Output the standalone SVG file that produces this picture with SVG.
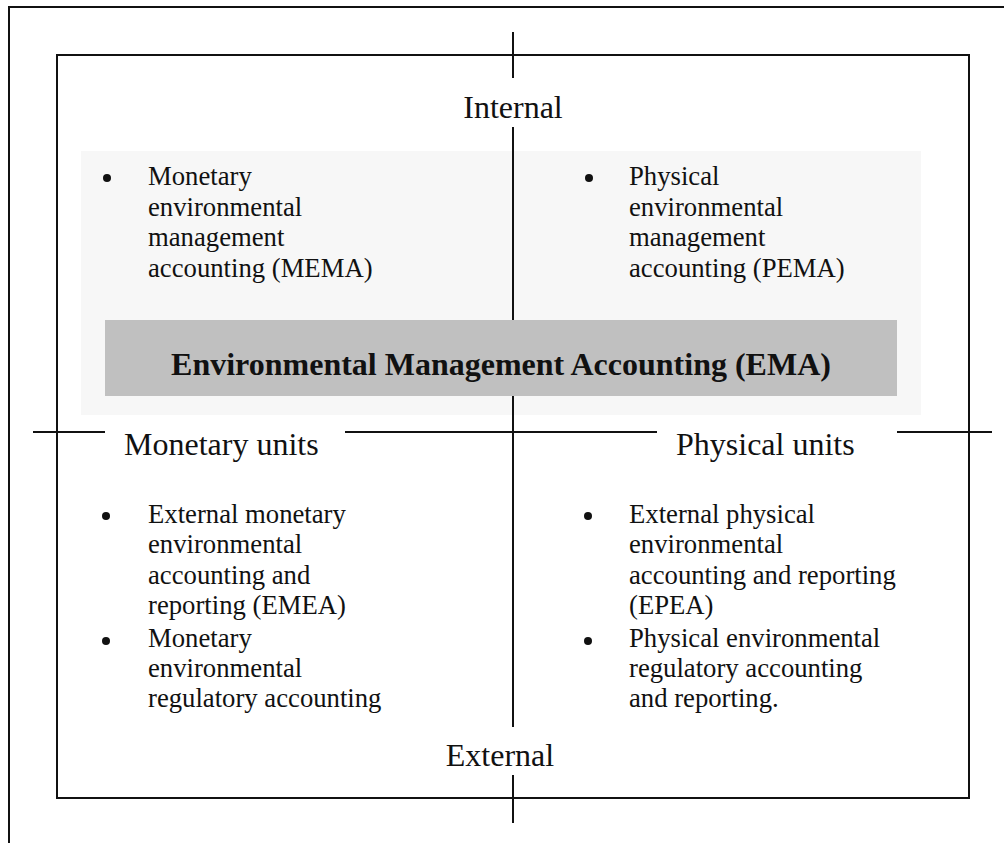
<svg xmlns="http://www.w3.org/2000/svg" width="1004" height="843" viewBox="0 0 1004 843">
<style>
.ln{stroke:#111;stroke-width:2;fill:none}
.lbl{font-family:"Liberation Serif","Times New Roman",serif;font-size:32px;fill:#111}
.bt{font-family:"Liberation Serif","Times New Roman",serif;font-size:26.7px;fill:#111}
.ttl{font-family:"Liberation Serif","Times New Roman",serif;font-size:32px;font-weight:bold;fill:#111}
.dot{fill:#111}
</style>
<rect width="1004" height="843" fill="#fff"/>
<g id="frame">
<path class="ln" d="M9,843 V7 H1004"/>
<rect class="ln" x="57" y="55" width="912" height="743"/>
</g>
<g id="internal-panel">
<rect x="81" y="151" width="840" height="264" fill="#f7f7f7"/>
</g>
<g id="connectors">
<path class="ln" d="M513,32 V78 M513,127 V727 M513,775 V823"/>
<path class="ln" d="M33,432 H105 M345,432 H657 M897,432 H992"/>
</g>
<g id="ema">
<rect x="105" y="320" width="792" height="76" fill="#c0c0c0"/>
<text class="ttl" x="501" y="375" text-anchor="middle">Environmental Management Accounting (EMA)</text>
</g>
<g id="label-internal"><text class="lbl" x="513" y="118" text-anchor="middle">Internal</text></g>
<g id="label-external"><text class="lbl" x="500" y="766" text-anchor="middle">External</text></g>
<g id="label-monetary"><text class="lbl" x="124" y="455">Monetary units</text></g>
<g id="label-physical"><text class="lbl" x="676" y="455">Physical units</text></g>
<g id="mema">
<circle class="dot" cx="107" cy="178" r="4"/>
<text class="bt"><tspan x="148" y="185">Monetary</tspan><tspan x="148" y="216">environmental</tspan><tspan x="148" y="246">management</tspan><tspan x="148" y="277">accounting (MEMA)</tspan></text>
</g>
<g id="pema">
<circle class="dot" cx="589" cy="178" r="4"/>
<text class="bt"><tspan x="629" y="185">Physical</tspan><tspan x="629" y="216">environmental</tspan><tspan x="629" y="246">management</tspan><tspan x="629" y="277">accounting (PEMA)</tspan></text>
</g>
<g id="emea">
<circle class="dot" cx="106" cy="516" r="4"/>
<text class="bt"><tspan x="148" y="523">External monetary</tspan><tspan x="148" y="553">environmental</tspan><tspan x="148" y="584">accounting and</tspan><tspan x="148" y="614">reporting (EMEA)</tspan></text>
<circle class="dot" cx="106" cy="641" r="4"/>
<text class="bt"><tspan x="148" y="647">Monetary</tspan><tspan x="148" y="677">environmental</tspan><tspan x="148" y="707">regulatory accounting</tspan></text>
</g>
<g id="epea">
<circle class="dot" cx="588" cy="516" r="4"/>
<text class="bt"><tspan x="629" y="523">External physical</tspan><tspan x="629" y="553">environmental</tspan><tspan x="629" y="584">accounting and reporting</tspan><tspan x="629" y="614">(EPEA)</tspan></text>
<circle class="dot" cx="588" cy="641" r="4"/>
<text class="bt"><tspan x="629" y="647">Physical environmental</tspan><tspan x="629" y="677">regulatory accounting</tspan><tspan x="629" y="707">and reporting.</tspan></text>
</g>
</svg>
